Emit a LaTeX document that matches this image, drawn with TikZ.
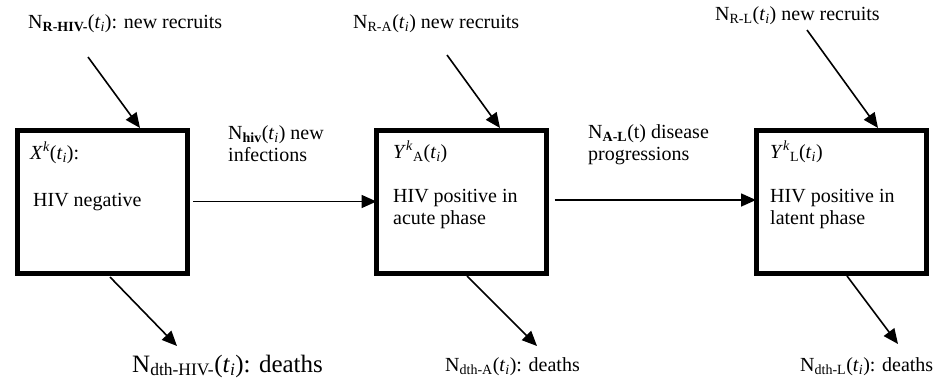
\documentclass[tikz,border=0pt]{standalone}
\usepackage{fontspec}
\setmainfont{Liberation Serif}
\usetikzlibrary{arrows.meta}
\newcommand{\tsub}{(\textit{t}\textsubscript{\textit{i}})}
\begin{document}
\begin{tikzpicture}[x=1pt,y=-1pt,
  statebox/.style={draw, line width=5pt, minimum width=170pt, minimum height=143pt, inner sep=0pt, outer sep=0pt},
  lbl/.style={anchor=west, inner sep=0pt, font=\fontsize{20}{22}\selectfont, align=left},
  biglbl/.style={anchor=west, inner sep=0pt, font=\fontsize{25}{28}\selectfont, align=left},
  flow/.style={line width=1.6pt, -{Triangle[length=15pt,width=13pt]}}]
\useasboundingbox (0,0) rectangle (933,381);

% state boxes
\node[statebox] (b1) at (102,201.5) {};
\node[statebox] (b2) at (461.5,201.5) {};
\node[statebox] (b3) at (841,201.5) {};

% box texts
\node[lbl] (x1) at (30,153) {\textit{X}\textsuperscript{\textit{k}}\tsub:};
\node[lbl] (x2) at (33,202) {HIV negative};
\node[lbl] (y1) at (393,152) {\textit{Y}\textsuperscript{\textit{k}}\textsubscript{A}\tsub};
\node[lbl] (y2) at (393,209) {HIV positive in\\acute phase};
\node[lbl] (z1) at (770,152) {\textit{Y}\textsuperscript{\textit{k}}\textsubscript{L}\tsub};
\node[lbl] (z2) at (770,209) {HIV positive in\\latent phase};

% recruit labels
\node[lbl] (r1) at (28,24) {N\textsubscript{\textbf{R-HIV-}}\tsub: new recruits};
\node[lbl] (r2) at (353,24) {N\textsubscript{R-A}\tsub{} new recruits};
\node[lbl] (r3) at (715,16) {N\textsubscript{R-L}\tsub{} new recruits};

% transition labels
\node[lbl] (t1) at (228,144) {N\textsubscript{\textbf{hiv}}\tsub{} new\\infections};
\node[lbl] (t2) at (588,145) {N\textsubscript{\textbf{A-L}}(t) disease\\progressions};

% death labels
\node[biglbl] (d1) at (132,366) {N\textsubscript{dth-HIV-}\tsub: deaths};
\node[lbl] (d2) at (445,367) {N\textsubscript{dth-A}\tsub: deaths};
\node[lbl] (d3) at (800,367) {N\textsubscript{dth-L}\tsub: deaths};

% connector end points
\coordinate (s1) at (88,57);   \coordinate (e1) at (140,128);
\coordinate (s2) at (447,55);  \coordinate (e2) at (500,128);
\coordinate (s3) at (807,30);  \coordinate (e3) at (878,128);
\coordinate (o1) at (110,277); \coordinate (f1) at (177,346);
\coordinate (o2) at (467,276); \coordinate (f2) at (537,346);
\coordinate (o3) at (847,276); \coordinate (f3) at (898,344);

% flows
\draw[flow] (s1) -- (e1);
\draw[flow] (s2) -- (e2);
\draw[flow] (s3) -- (e3);
\draw[flow, shorten <=6pt] (b1.east) -- (b2.west);
\draw[flow, shorten <=8pt] (b2.east |- 0,200) -- (b3.west |- 0,200);
\draw[flow] (o1) -- (f1);
\draw[flow] (o2) -- (f2);
\draw[flow] (o3) -- (f3);
\end{tikzpicture}
\end{document}
